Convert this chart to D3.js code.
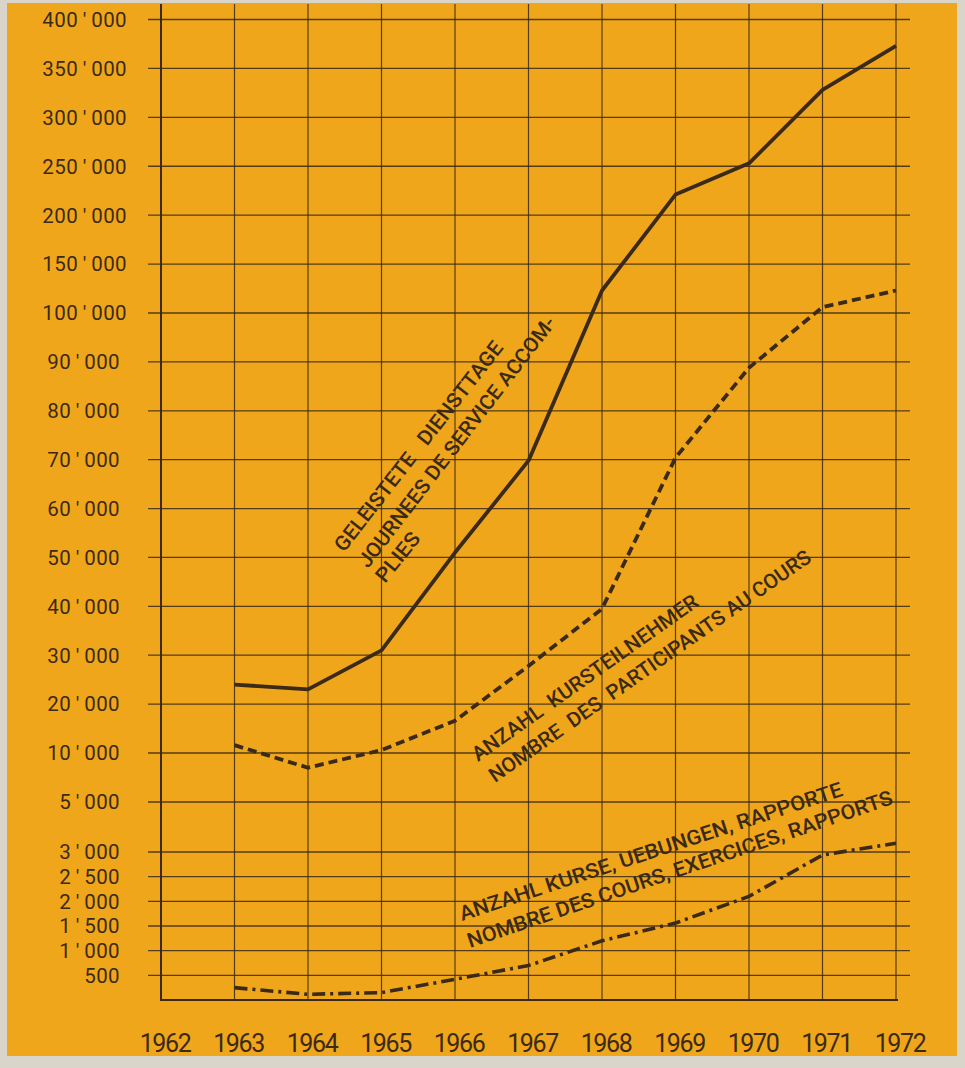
<!DOCTYPE html>
<html>
<head>
<meta charset="utf-8">
<script src="https://cdn.jsdelivr.net/npm/d3@7"></script>
<style>
  html, body { margin: 0; padding: 0; background: #d9d5cb; }
  svg { display: block; }
  text { font-family: Roboto, "DejaVu Sans", sans-serif; fill: #3b2a18; white-space: pre; }
</style>
</head>
<body>
<svg id="chart" width="965" height="1068"></svg>
<script>
// ---------- data ----------
const years = [1963, 1964, 1965, 1966, 1967, 1968, 1969, 1970, 1971, 1972];
const axisYears = [1962, 1963, 1964, 1965, 1966, 1967, 1968, 1969, 1970, 1971, 1972];
// Geleistete Diensttage / Journées de service accomplies
const serviceDays = [24000, 23000, 31000, 51000, 69800, 123000, 221000, 253000, 328000, 373000];
// Anzahl Kursteilnehmer / Nombre des participants au cours
const participants = [11600, 8500, 10600, 16600, 27800, 39500, 70400, 88800, 106000, 123000];
// Anzahl Kurse, Uebungen, Rapporte / Nombre des cours, exercices, rapports
const courses = [250, 115, 150, 420, 700, 1200, 1560, 2100, 2940, 3350];

const tickValues = [400000, 350000, 300000, 250000, 200000, 150000, 100000,
  90000, 80000, 70000, 60000, 50000, 40000, 30000, 20000, 10000,
  5000, 3000, 2500, 2000, 1500, 1000, 500];
const tickLabels = ["400'000", "350'000", "300'000", "250'000", "200'000", "150'000", "100'000",
  "90'000", "80'000", "70'000", "60'000", "50'000", "40'000", "30'000", "20'000", "10'000",
  "5'000", "3'000", "2'500", "2'000", "1'500", "1'000", "500"];
// piece-wise scale break points of the original (non-uniform) axis
const yBreaks = [0, 3000, 5000, 10000, 100000, 400000];

const labelLines = [
  { text: "GELEISTETE   DIENSTTAGE", x: 344, y: 553, angle: -52, len: 260 },
  { text: "JOURNEES DE SERVICE ACCOM-", x: 368, y: 569, angle: -52.5, len: 310 },
  { text: "PLIES", x: 385, y: 584, angle: -51, len: 58 },
  { text: "ANZAHL  KURSTEILNEHMER", x: 478, y: 762, angle: -35.3, len: 272 },
  { text: "NOMBRE  DES  PARTICIPANTS AU COURS", x: 495, y: 783, angle: -35, len: 388 },
  { text: "ANZAHL KURSE, UEBUNGEN, RAPPORTE", x: 462, y: 921, angle: -18.2, len: 402 },
  { text: "NOMBRE DES COURS, EXERCICES, RAPPORTS", x: 470, y: 948, angle: -18.8, len: 448 }
];

// ---------- layout ----------
const W = 965, H = 1068;
const ink = "#3b2a18";
const svg = d3.select("#chart");

// paper + orange plate
svg.append("rect").attr("width", W).attr("height", H).attr("fill", "#d9d5cb");
svg.append("rect").attr("x", 7).attr("y", 3).attr("width", 950).attr("height", 1053)
  .attr("fill", "#f0a61a");

const x = d3.scaleLinear().domain([1962, 1972]).range([161, 896]);
const y = d3.scaleLinear().domain(yBreaks).range([1000, 852, 802, 753, 313, 19.5]);

const grid = svg.append("g");
// horizontal grid lines
grid.selectAll("line.h").data(tickValues).join("line")
  .attr("x1", 148).attr("x2", 910)
  .attr("y1", d => y(d)).attr("y2", d => y(d))
  .attr("stroke", ink).attr("stroke-width", 1.3).attr("opacity", 0.85);
// vertical grid lines
grid.selectAll("line.v").data(axisYears.slice(1)).join("line")
  .attr("x1", d => x(d)).attr("x2", d => x(d))
  .attr("y1", 4).attr("y2", 1000)
  .attr("stroke", ink).attr("stroke-width", 1.2).attr("opacity", 0.85);
// axes
svg.append("line").attr("x1", x(1962)).attr("x2", x(1962)).attr("y1", 4).attr("y2", 1000)
  .attr("stroke", ink).attr("stroke-width", 2);
svg.append("line").attr("x1", x(1962) - 1).attr("x2", x(1972) + 2).attr("y1", y(0)).attr("y2", y(0))
  .attr("stroke", ink).attr("stroke-width", 2);

// y tick labels
svg.append("g").selectAll("text").data(tickValues).join("text")
  .attr("x", d => d >= 100000 ? 127 : 120).attr("y", d => y(d)).attr("dy", "0.36em")
  .attr("text-anchor", "end")
  .attr("font-size", 20.5).attr("letter-spacing", 0.4)
  .text((d, i) => tickLabels[i].replace("'", "\u2009'\u2009"));

// x tick labels
svg.append("g").selectAll("text").data(axisYears).join("text")
  .attr("x", d => x(d) + 4).attr("y", 1052)
  .attr("text-anchor", "middle")
  .attr("font-size", 25).attr("letter-spacing", -1.4)
  .text(d => d);

// lines
const line = d3.line().x((d, i) => x(years[i])).y(d => y(d));
svg.append("path").datum(serviceDays).attr("d", line)
  .attr("fill", "none").attr("stroke", ink).attr("stroke-width", 3.8)
  .attr("stroke-linejoin", "round");
svg.append("path").datum(participants).attr("d", line)
  .attr("fill", "none").attr("stroke", ink).attr("stroke-width", 3.8)
  .attr("stroke-dasharray", "9,5");
svg.append("path").datum(courses).attr("d", line)
  .attr("fill", "none").attr("stroke", ink).attr("stroke-width", 3.6)
  .attr("stroke-dasharray", "13,5,3,5");

// annotations
svg.append("g").selectAll("text").data(labelLines).join("text")
  .attr("transform", d => `translate(${d.x},${d.y}) rotate(${d.angle})`)
  .attr("font-size", 20.5).attr("font-weight", 500)
  .attr("xml:space", "preserve")
  .attr("textLength", d => d.len)
  .attr("lengthAdjust", "spacingAndGlyphs")
  .text(d => d.text);
</script>
</body>
</html>
